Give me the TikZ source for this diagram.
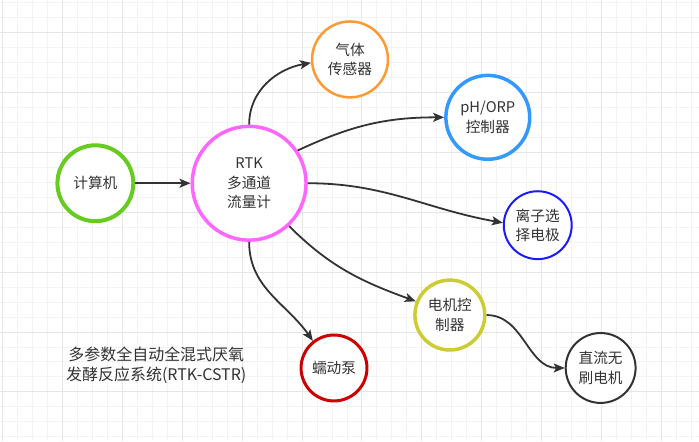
\documentclass[tikz,border=0pt]{standalone}
\usepackage{fontspec}
\setmainfont{Noto Sans CJK SC}
\usepackage{tikz}
\usetikzlibrary{positioning,calc,arrows.meta}
\definecolor{inkgray}{RGB}{51,51,51}
\definecolor{gridminor}{RGB}{243,243,243}
\definecolor{gridmajor}{RGB}{230,230,230}
\definecolor{pcgreen}{RGB}{102,204,34}
\definecolor{rtkpink}{RGB}{255,102,255}
\definecolor{gasorange}{RGB}{255,153,51}
\definecolor{phblue}{RGB}{51,153,255}
\definecolor{ionblue}{RGB}{26,26,255}
\definecolor{motolive}{RGB}{204,204,51}
\definecolor{pumpred}{RGB}{204,0,0}

\begin{document}
\begin{tikzpicture}[
      x=1pt, y=1pt,
      font=\fontsize{14.7}{19.5}\selectfont,
      unit/.style={circle, draw, fill=white, text=inkgray, align=center,
        inner sep=0pt},
      link/.style={draw=inkgray, line width=1.8pt,
        -{Stealth[length=11pt, width=9pt, inset=2.5pt]}},
      note/.style={text=inkgray, align=center,
        font=\fontsize{16}{20}\selectfont}
    ]
    % ---------------- background grid ----------------
    \fill[white] (0,0) rectangle (699,441);
    \foreach \gx in {2,17,...,699} \draw[gridminor, line width=1pt] (\gx,0) -- (\gx,441);
    \foreach \gy in {439,424,...,0} \draw[gridminor, line width=1pt] (0,\gy) -- (699,\gy);
    \foreach \gx in {2,62,...,699} \draw[gridmajor, line width=1pt] (\gx,0) -- (\gx,441);
    \foreach \gy in {409,349,...,0} \draw[gridmajor, line width=1pt] (0,\gy) -- (699,\gy);
    \useasboundingbox (0,0) rectangle (699,441);
    % ---------------- units ----------------
    \node[unit, draw=pcgreen, line width=4pt, minimum size=76pt] (pc) at (95,258) {计算机};
    \node[unit, draw=rtkpink, line width=3.5pt, minimum size=114pt] (rtk) at (249,258)
      {RTK\\多通道\\流量计};
    \node[unit, draw=gasorange, line width=2.5pt, minimum size=76pt] (gas) at (350,382)
      {气体\\传感器};
    \node[unit, draw=phblue, line width=3.5pt, minimum size=84pt] (ph) at (488,324)
      {pH/ORP\\控制器};
    \node[unit, draw=ionblue, line width=2pt, minimum size=68pt] (ion) at (538,216)
      {离子选\\择电极};
    \node[unit, draw=motolive, line width=3.5pt, minimum size=70pt] (motor) at (450,126)
      {电机控\\制器};
    \node[unit, draw=inkgray, line width=2pt, minimum size=70pt] (bldc) at (601,73)
      {直流无\\刷电机};
    \node[unit, draw=pumpred, line width=3pt, minimum size=66pt] (pump) at (334,73)
      {蠕动泵};
    \node[note] (title) at (156,76) {多参数全自动全混式厌氧\\发酵反应系统(RTK-CSTR)};
    % ---------------- connectors ----------------
    \draw[link] (pc) -- (rtk);
    \draw[link] (rtk.90) to[out=90, in=190] (gas.185);
    \draw[link] (rtk.34) to[out=25, in=180] (ph.180);
    \draw[link] (rtk.0) to[out=0, in=170] (ion.176);
    \draw[link] (rtk.-47) to[out=-45, in=160] (motor.158);
    \draw[link] (rtk.-90) to[out=-90, in=125] (pump.128);
    \draw[link] (motor.0) to[out=0, in=180] (bldc.180);
  \end{tikzpicture}
\end{document}
